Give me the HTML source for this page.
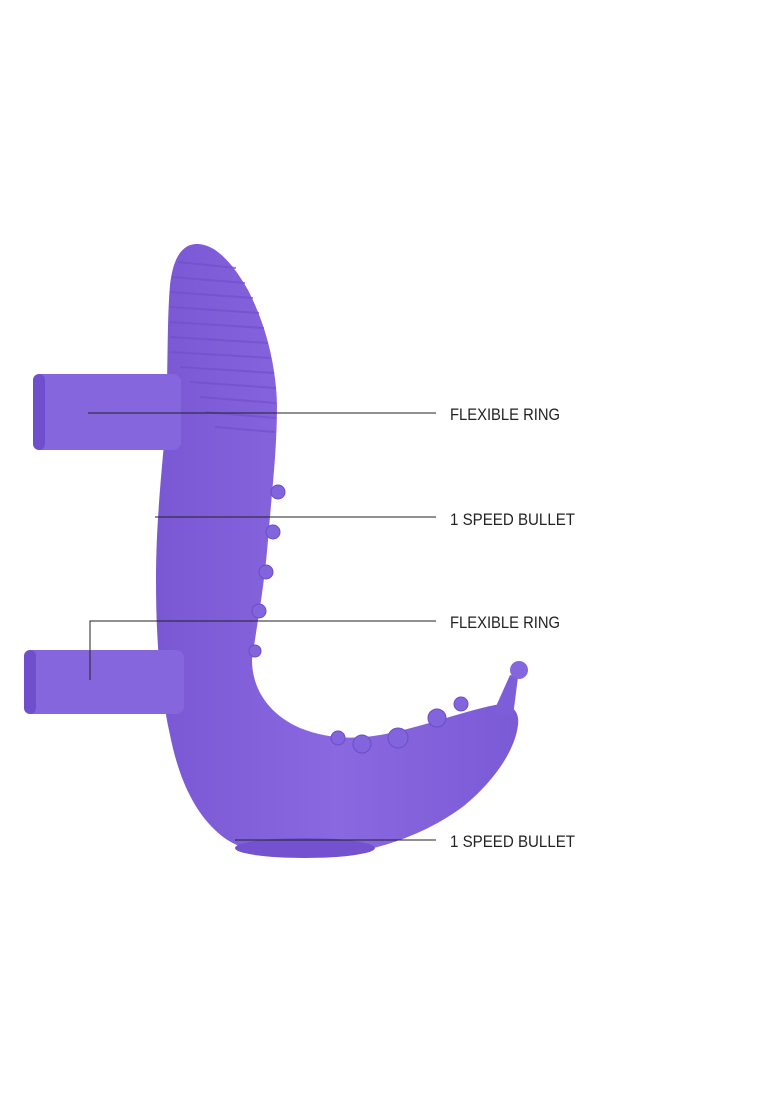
<!DOCTYPE html>
<html><head><style>
html,body{margin:0;padding:0;background:#fff;}
body{width:776px;height:1102px;overflow:hidden;position:relative;}
svg{position:absolute;left:0;top:0;}
</style></head><body>
<svg width="776" height="1102" viewBox="0 0 776 1102" xmlns="http://www.w3.org/2000/svg">
<defs>
<linearGradient id="g" x1="0" y1="0" x2="1" y2="0">
<stop offset="0" stop-color="#7a58d4"/><stop offset="0.5" stop-color="#8a68e0"/><stop offset="1" stop-color="#7b5ad6"/>
</linearGradient>
</defs>
<!-- body -->
<path d="M197,244 C215,244 232,262 248,290 C266,325 276,365 277,405 C277,450 272,490 268,540 C264,590 256,630 252,660 C252,690 270,715 300,728 C325,738 350,740 380,735 C420,728 460,712 495,705 C510,702 520,710 518,725 C515,750 495,780 465,805 C430,832 380,852 320,857 C270,860 235,850 215,830 C192,808 178,775 170,735 C160,690 156,640 156,580 C156,520 162,470 166,420 C168,370 167,320 170,285 C173,258 182,244 197,244 Z" fill="url(#g)"/>
<!-- ribs -->
<g stroke="#7150cc" stroke-width="2" fill="none" opacity="0.7">
<path d="M178,262 L236,268"/><path d="M172,277 L245,283"/><path d="M170,292 L253,298"/><path d="M170,307 L259,313"/><path d="M170,322 L264,328"/><path d="M170,337 L268,343"/><path d="M170,352 L271,358"/><path d="M180,367 L274,373"/><path d="M190,382 L276,388"/><path d="M200,397 L276,403"/><path d="M205,412 L276,418"/><path d="M215,427 L275,432"/>
</g>
<!-- bottom base -->
<ellipse cx="305" cy="848" rx="70" ry="10" fill="#7452cf"/>
<!-- nubs -->
<g fill="#8264dc" stroke="#6c4cc8" stroke-width="1">
<circle cx="278" cy="492" r="7"/><circle cx="273" cy="532" r="7"/><circle cx="266" cy="572" r="7"/><circle cx="259" cy="611" r="7"/><circle cx="255" cy="651" r="6"/>
<circle cx="338" cy="738" r="7"/><circle cx="362" cy="744" r="9"/><circle cx="398" cy="738" r="10"/><circle cx="437" cy="718" r="9"/><circle cx="461" cy="704" r="7"/>
</g>
<!-- antenna -->
<path d="M493,713 L510,675 L518,677 L513,716 Z" fill="#7d5ed8"/>
<circle cx="519" cy="670" r="9" fill="#8466de"/>
<!-- rings -->
<rect x="33" y="374" width="148" height="76" rx="8" fill="#8566dd"/>
<rect x="33" y="374" width="12" height="76" rx="6" fill="#6f4fcb"/>
<rect x="24" y="650" width="160" height="64" rx="8" fill="#8566dd"/>
<rect x="24" y="650" width="12" height="64" rx="6" fill="#6f4fcb"/>
<!-- lines -->
<g stroke="#222" stroke-width="1" fill="none">
<path d="M88,413 H436"/><path d="M155,517 H436"/><path d="M90,680 V621 H436"/><path d="M235,840 H436"/>
</g>
<g font-family="'Liberation Sans',sans-serif" font-size="17" fill="#222" textLength="">
<text x="450" y="420" textLength="110" lengthAdjust="spacingAndGlyphs">FLEXIBLE RING</text>
<text x="450" y="525" textLength="125" lengthAdjust="spacingAndGlyphs">1 SPEED BULLET</text>
<text x="450" y="628" textLength="110" lengthAdjust="spacingAndGlyphs">FLEXIBLE RING</text>
<text x="450" y="847" textLength="125" lengthAdjust="spacingAndGlyphs">1 SPEED BULLET</text>
</g>
</svg>
</body></html>
